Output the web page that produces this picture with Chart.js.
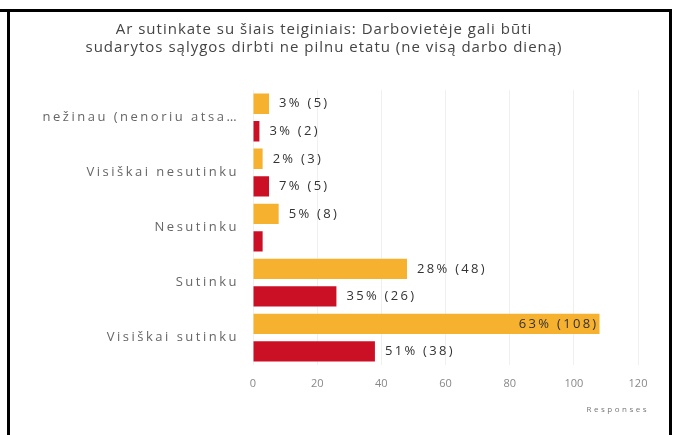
<!DOCTYPE html>
<html>
<head>
<meta charset="utf-8">
<script src="https://cdn.jsdelivr.net/npm/chart.js@4"></script>
<style>
  html, body { margin: 0; padding: 0; background: #fff; }
  #wrap { position: absolute; left: 0; top: 0; width: 673px; height: 435px; }
  .rule { position: absolute; background: #000; pointer-events: none; }
</style>
</head>
<body>
<div id="wrap"><canvas id="c" width="673" height="435"></canvas></div>
<div class="rule" style="left:0;top:9px;width:672px;height:3px;"></div>
<div class="rule" style="left:7px;top:9px;width:3px;height:426px;"></div>
<div class="rule" style="left:669px;top:9px;width:3px;height:426px;"></div>
<script>
// Answer options
const categories = [
  'nežinau (nenoriu atsa…',
  'Visiškai nesutinku',
  'Nesutinku',
  'Sutinku',
  'Visiškai sutinku'
];
// Response counts per group
const groupA = [5, 3, 8, 48, 108];
const groupB = [2, 5, 3, 26, 38];
// Labels not shown on the chart: [dataset, index]
const hiddenLabels = [[1, 2]];
// X axis ticks
const xTicks = [0, 20, 40, 60, 80, 100, 120];

const FONT = '"Open Sans", sans-serif';
const sum = a => a.reduce((s, v) => s + v, 0);

// Run a draw function with a given canvas letter spacing
function spaced(ctx, spacing, fn, dx) {
  const prev = ctx.letterSpacing;
  ctx.save();
  ctx.letterSpacing = spacing;
  if (dx) ctx.translate(dx, 0);
  try { fn(); } finally { ctx.restore(); ctx.letterSpacing = prev || '0px'; }
}

// Wider tracking for the category labels, axis title and chart title
const tracking = {
  id: 'tracking',
  afterLayout(chart) {
    const y = chart.scales.y, x = chart.scales.x, t = chart.titleBlock;
    if (y && !y._tracked) {
      const orig = y.drawLabels.bind(y);
      y.drawLabels = (area) => spaced(chart.ctx, '2.5px', () => orig(area));
      y._tracked = true;
    }
    if (x && !x._tracked) {
      const orig = x.drawTitle.bind(x);
      x.drawTitle = (area) => spaced(chart.ctx, '2.5px', () => orig(area), 11);
      x._tracked = true;
    }
    if (t && !t._tracked) {
      const orig = t.draw.bind(t);
      t.draw = () => spaced(chart.ctx, '1px', () => orig());
      t._tracked = true;
    }
  }
};

// Draws "pct% (n)" next to each bar
const valueLabels = {
  id: 'valueLabels',
  afterDatasetsDraw(chart) {
    const ctx = chart.ctx;
    ctx.save();
    ctx.font = '13px ' + FONT;
    ctx.letterSpacing = '2.3px';
    ctx.fillStyle = '#333';
    ctx.textBaseline = 'middle';
    chart.data.datasets.forEach((ds, di) => {
      const total = sum(ds.data);
      chart.getDatasetMeta(di).data.forEach((bar, i) => {
        if (hiddenLabels.some(h => h[0] === di && h[1] === i)) return;
        const v = ds.data[i];
        const txt = Math.round(v / total * 100) + '% (' + v + ')';
        const w = ctx.measureText(txt).width;
        if (bar.x + 10 + w > chart.chartArea.right) {
          ctx.textAlign = 'right';
          ctx.fillText(txt, bar.x - 1, bar.y);
        } else {
          ctx.textAlign = 'left';
          ctx.fillText(txt, bar.x + 10, bar.y);
        }
      });
    });
    ctx.restore();
  }
};

new Chart(document.getElementById('c'), {
  type: 'bar',
  data: {
    labels: categories,
    datasets: [
      { label: 'A', data: groupA, backgroundColor: '#F6B12F' },
      { label: 'B', data: groupB, backgroundColor: '#CB1026' }
    ]
  },
  options: {
    indexAxis: 'y',
    responsive: false,
    animation: false,
    events: [],
    categoryPercentage: 1,
    barPercentage: 0.74,
    layout: { padding: { left: 10, right: 35, bottom: 16 } },
    plugins: {
      legend: { display: false },
      tooltip: { enabled: false },
      title: {
        display: true,
        text: [
          'Ar sutinkate su šiais teiginiais: Darbovietėje gali būti',
          'sudarytos sąlygos dirbti ne pilnu etatu (ne visą darbo dieną)'
        ],
        color: '#444',
        font: { family: FONT, size: 15, weight: 'normal', lineHeight: 1.2 },
        padding: { top: 21, bottom: 33 }
      }
    },
    scales: {
      x: {
        min: 0,
        max: 120,
        afterBuildTicks(scale) { scale.ticks = xTicks.map(v => ({ value: v })); },
        grid: { color: '#f0f0f0', drawTicks: false },
        border: { display: false },
        ticks: { color: '#888', padding: 12, font: { family: FONT, size: 11 } },
        title: {
          display: true,
          text: 'Responses',
          align: 'end',
          color: '#777',
          padding: { top: 3 },
          font: { family: FONT, size: 8 }
        }
      },
      y: {
        grid: { display: false },
        border: { display: false },
        afterFit(scale) { scale.width = 243; },
        ticks: { color: '#666', padding: 6, font: { family: FONT, size: 13 } }
      }
    }
  },
  plugins: [tracking, valueLabels]
});
</script>
</body>
</html>
